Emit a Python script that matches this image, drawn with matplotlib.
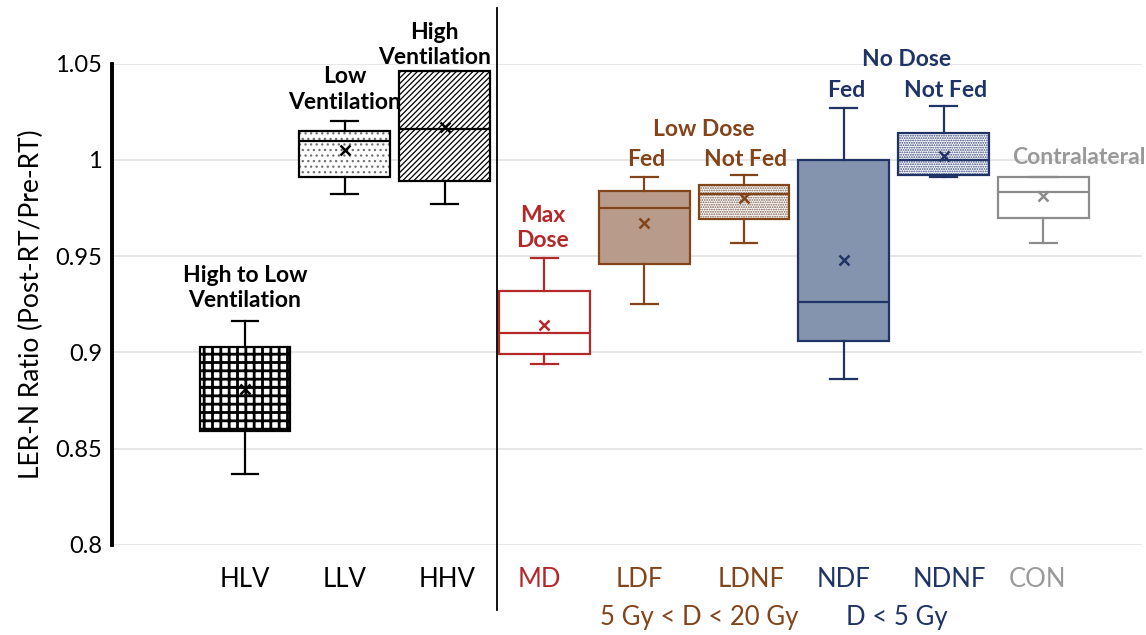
import numpy as np
import matplotlib.pyplot as plt
from matplotlib import transforms
from matplotlib.patches import Rectangle

plt.rcParams['font.family'] = ['Lato', 'DejaVu Sans']
plt.rcParams['hatch.linewidth'] = 0.9

# ======= dados =======
groups = ['HLV', 'LLV', 'HHV', 'MD', 'LDF', 'LDNF', 'NDF', 'NDNF', 'CON']
whislo = [0.837, 0.982, 0.977, 0.894, 0.925, 0.957, 0.886, 0.991, 0.957]
q1 = [0.859, 0.991, 0.989, 0.899, 0.946, 0.969, 0.906, 0.992, 0.970]
med = [0.882, 1.010, 1.016, 0.910, 0.975, 0.982, 0.926, 1.000, 0.983]
q3 = [0.903, 1.015, 1.046, 0.932, 0.984, 0.987, 1.000, 1.014, 0.991]
whishi = [0.916, 1.020, 1.046, 0.949, 0.991, 0.992, 1.027, 1.028, 0.991]
means = [0.881, 1.005, 1.017, 0.914, 0.967, 0.980, 0.948, 1.002, 0.981]

black = '#000000'
red = '#B4282A'
brown = '#84441A'
navy = '#1F3366'
gray = '#8C8C8C'
edge = [black, black, black, red, brown, brown, navy, navy, gray]
face = ['white', 'white', 'white', 'white', '#B89B8A', 'white', '#8494AF', 'white', 'white']
hatches = ['++', '...', '//////', None, None, '.......', None, '.......', None]
hatch_col = [black, '#707070', black, None, None, '#7A5A48', None, '#34457A', None]
hatch_lw = [2.0, 0.9, 0.9, 0, 0, 0.9, 0, 0.9, 0]

W = 0.91
fig = plt.figure(figsize=(11.46, 6.35), dpi=100)
ax = fig.add_axes([0.0977, 0.142, 0.8988, 0.758])

pos = np.arange(len(groups))
stats = []
for i in range(len(groups)):
    stats.append(dict(med=med[i], q1=q1[i], q3=q3[i], whislo=whislo[i],
                      whishi=whishi[i], mean=means[i], fliers=[]))

bp = ax.bxp(stats, positions=pos, widths=W, capwidths=0.27, patch_artist=True,
            showmeans=True, showfliers=False, manage_ticks=False)

for i, box in enumerate(bp['boxes']):
    box.set_facecolor(face[i])
    box.set_edgecolor(edge[i])
    box.set_linewidth(1.6)
    if hatches[i]:
        # textura desenhada por baixo, com cor própria
        box.set_facecolor('none')
        r = Rectangle((pos[i] - W / 2, q1[i]), W, q3[i] - q1[i],
                      facecolor='white', edgecolor=hatch_col[i],
                      linewidth=0, hatch=hatches[i], zorder=1.9)
        if hasattr(r, 'set_hatch_linewidth'):
            r.set_hatch_linewidth(hatch_lw[i])
        ax.add_patch(r)
    bp['medians'][i].set(color=edge[i], linewidth=1.6)
    bp['means'][i].set(marker='x', markeredgecolor=edge[i], markersize=7,
                       markeredgewidth=1.8)
    for k in (2 * i, 2 * i + 1):
        bp['whiskers'][k].set(color=edge[i], linewidth=1.6)
        bp['caps'][k].set(color=edge[i], linewidth=1.6)

ax.set_xlim(-1.333, 8.988)
ax.set_ylim(0.8, 1.05)
ax.set_yticks([0.8, 0.85, 0.9, 0.95, 1.0, 1.05])
ax.set_yticklabels(['0.8', '0.85', '0.9', '0.95', '1', '1.05'], fontsize=17)
ax.tick_params(axis='y', length=0, pad=7)
ax.set_xticks([])
ax.grid(axis='y', color='#E3E3E3', linewidth=1.2)
ax.set_axisbelow(True)
for s in ['top', 'right', 'bottom']:
    ax.spines[s].set_visible(False)
ax.spines['left'].set_linewidth(2.8)
ax.set_ylabel('LER-N Ratio (Post-RT/Pre-RT)', fontsize=19, labelpad=8)

# linha divisória
trans = transforms.blended_transform_factory(ax.transData, ax.transAxes)
ax.plot([2.525, 2.525], [-0.1355, 1.115], color='black', linewidth=1.3,
        transform=trans, clip_on=False)

# rótulos do eixo x
lbl_x = [0, 1, 2.02, 2.95, 3.95, 5.07, 6.0, 7.06, 7.94]
for i, g in enumerate(groups):
    ax.text(lbl_x[i], -0.073, g, transform=trans, ha='center', va='center',
            fontsize=18.5, color=edge[i] if edge[i] != gray else '#999999')
ax.text(4.55, -0.152, '5 Gy < D < 20 Gy', transform=trans, ha='center',
        va='center', fontsize=18.5, color=brown)
ax.text(6.53, -0.152, 'D < 5 Gy', transform=trans, ha='center',
        va='center', fontsize=18.5, color=navy)

# anotações
notes = [
    (0.0, 0.9335, 'High to Low\nVentilation', black),
    (1.0, 1.0365, 'Low\nVentilation', black),
    (1.9, 1.0595, 'High\nVentilation', black),
    (2.98, 0.9645, 'Max\nDose', red),
    (4.6, 1.0156, 'Low Dose', brown),
    (4.02, 1.0, 'Fed', brown),
    (5.02, 1.0, 'Not Fed', brown),
    (6.63, 1.052, 'No Dose', navy),
    (6.02, 1.036, 'Fed', navy),
    (7.02, 1.036, 'Not Fed', navy),
    (8.35, 1.001, 'Contralateral', '#999999'),
]
for x, y, t, c in notes:
    ax.text(x, y, t, ha='center', va='center', fontsize=16.5, fontweight='bold',
            color=c, linespacing=1.25, clip_on=False)

plt.savefig('out.png', dpi=100)
